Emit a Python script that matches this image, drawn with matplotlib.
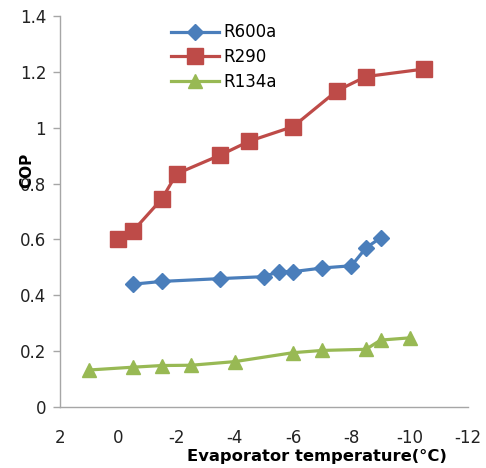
import matplotlib
matplotlib.use("Agg")
import matplotlib.pyplot as plt

# Data
t_r600a = [-0.5, -1.5, -3.5, -5.0, -5.5, -6.0, -7.0, -8.0, -8.5, -9.0]
cop_r600a = [0.44, 0.45, 0.46, 0.467, 0.485, 0.485, 0.498, 0.506, 0.57, 0.606]

t_r290 = [0.0, -0.5, -1.5, -2.0, -3.5, -4.5, -6.0, -7.5, -8.5, -10.5]
cop_r290 = [0.60, 0.63, 0.746, 0.835, 0.902, 0.952, 1.004, 1.132, 1.183, 1.21]

t_r134a = [1.0, -0.5, -1.5, -2.5, -4.0, -6.0, -7.0, -8.5, -9.0, -10.0]
cop_r134a = [0.133, 0.143, 0.149, 0.15, 0.163, 0.195, 0.203, 0.207, 0.24, 0.248]

x_ticks = [2, 0, -2, -4, -6, -8, -10, -12]
x_tick_labels = ["2", "0", "-2", "-4", "-6", "-8", "-10", "-12"]
y_ticks = [0, 0.2, 0.4, 0.6, 0.8, 1.0, 1.2, 1.4]
y_tick_labels = ["0", "0.2", "0.4", "0.6", "0.8", "1", "1.2", "1.4"]

series_names = ["R600a", "R290", "R134a"]

plt.rcParams['font.family'] = ['DejaVu Sans']

fig = plt.figure(figsize=(4.86, 4.68), dpi=100)
ax = fig.add_axes([0.1235, 0.130, 0.8395, 0.836])

blue = "#4A7EBB"
red = "#BE4B48"
green = "#98B954"

ax.plot(t_r600a, cop_r600a, color=blue, lw=2.3, marker="D", ms=8.3,
        markerfacecolor=blue, markeredgecolor=blue, label=series_names[0])
ax.plot(t_r290, cop_r290, color=red, lw=2.3, marker="s", ms=11,
        markerfacecolor=red, markeredgecolor=red, label=series_names[1])
ax.plot(t_r134a, cop_r134a, color=green, lw=2.3, marker="^", ms=10,
        markerfacecolor=green, markeredgecolor=green, label=series_names[2])

ax.set_xlim(2, -12)
ax.set_ylim(0, 1.4)
ax.set_xticks(x_ticks)
ax.set_xticklabels(x_tick_labels)
ax.set_yticks(y_ticks)
ax.set_yticklabels(y_tick_labels)

axis_gray = "#A6A6A6"
for s in ["top", "right"]:
    ax.spines[s].set_visible(False)
for s in ["left", "bottom"]:
    ax.spines[s].set_color(axis_gray)
    ax.spines[s].set_linewidth(1.0)

ax.tick_params(axis="y", direction="out", length=5, width=1.0, color=axis_gray,
               labelsize=12, pad=5, labelcolor="#222222")
ax.tick_params(axis="x", length=0, labelsize=12, pad=16, labelcolor="#222222")

ax.set_xlabel("Evaporator temperature(\u00b0C)", fontsize=11.8, fontweight="bold",
              va="center")
ax.xaxis.set_label_coords(0.63, -0.125)
ax.set_ylabel("COP", fontsize=11, fontweight="bold")
ax.yaxis.set_label_coords(-0.062, 0.605)

leg = ax.legend(loc="upper left", bbox_to_anchor=(0.255, 0.998), frameon=False,
                fontsize=12, handlelength=2.9, handletextpad=0.25,
                labelspacing=0.4, borderaxespad=0.0)

fig.savefig("out.png", dpi=100)
